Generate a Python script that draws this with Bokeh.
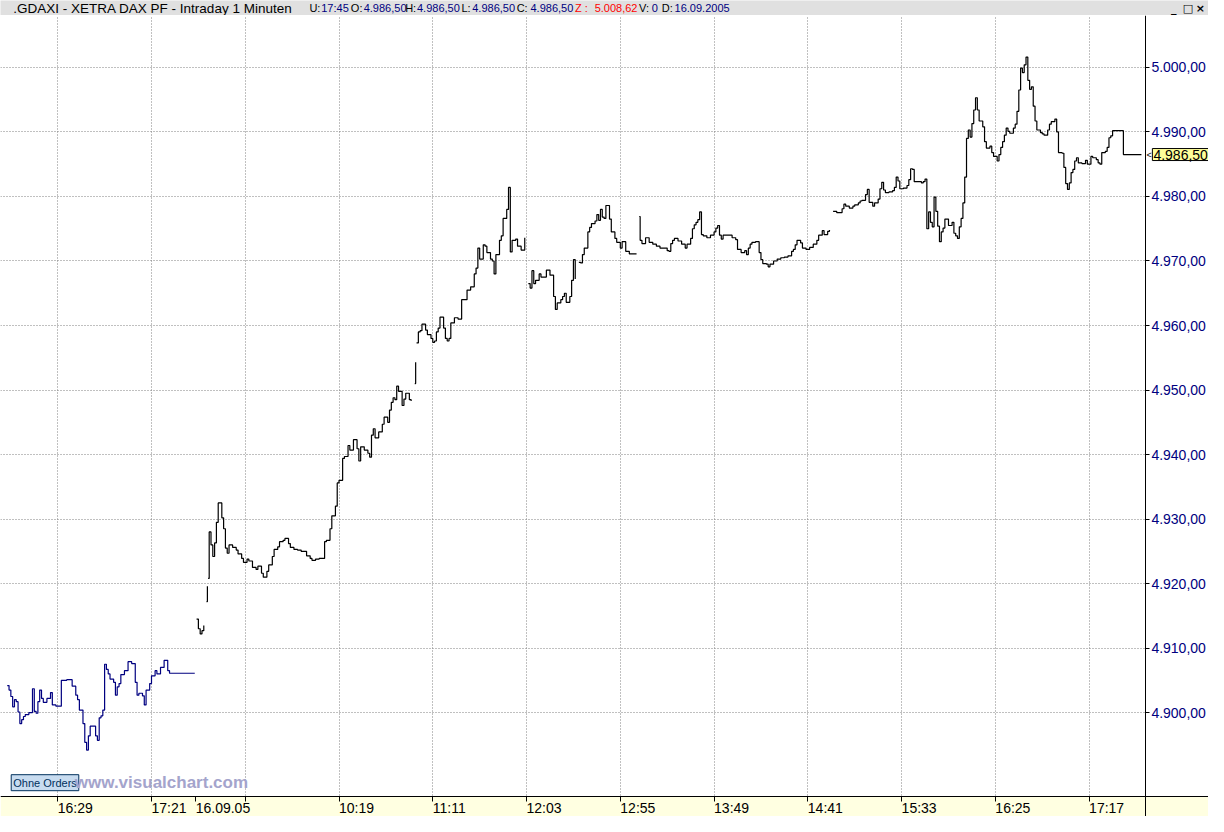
import math
from bokeh.plotting import figure
from bokeh.layouts import column
from bokeh.models import BoxAnnotation, FixedTicker, Label, Range1d
from bokeh.core.properties import value
from bokeh.embed import file_html
from bokeh.resources import INLINE

FONT = "Liberation Sans"
NAVY = "#000080"
nan = float("nan")

# header line (text pieces, colours, left edge in reference pixels)
header_text = [".GDAXI - XETRA DAX PF - Intraday 1 Minuten", "U:", "17:45", "O:", "4.986,50",
               "H:", "4.986,50", "L:", "4.986,50", "C:", "4.986,50", "Z :", "5.008,62",
               "V:", "0", "D:", "16.09.2005"]
header_color = ["black", "black", NAVY, "black", NAVY, "black", NAVY, "black", NAVY,
                "black", NAVY, "red", "red", "black", NAVY, "black", NAVY]
header_x = [13, 313, 325, 355, 368, 410, 422, 467, 478, 523, 537, 582, 602, 647, 660, 670, 683]
header_size = ["13.5px"] + ["11px"] * 16

# bar index -> time labels
x_ticks = [29, 81, 105.5, 133, 185, 237, 289, 341, 393, 445, 497, 549, 601]
x_labels = ["16:29", "17:21", "16.09.05", "", "10:19", "11:11", "12:03", "12:55",
            "13:49", "14:41", "15:33", "16:25", "17:17"]
grid_ticks = [29, 81, 133, 185, 237, 289, 341, 393, 445, 497, 549, 601]

y_ticks = [4900, 4910, 4920, 4930, 4940, 4950, 4960, 4970, 4980, 4990, 5000]
y_labels = ["4.900,00", "4.910,00", "4.920,00", "4.930,00", "4.940,00", "4.950,00",
            "4.960,00", "4.970,00", "4.980,00", "4.990,00", "5.000,00"]

last_price = 4986.5
last_label = "4.986,50"

# previous day (15.09.2005, 16:00 - 17:45)
prev_idx = [1, 2, 3, 4, 5, 6, 7, 8, 9, 10,
            11, 13, 15, 16, 17, 18, 19, 20, 21, 23,
            25, 26, 28, 31, 34, 37, 39, 40, 41, 43,
            44, 45, 46, 47, 50, 51, 52, 53, 54, 55,
            56, 57, 58, 60, 61, 62, 63, 64, 66, 68,
            70, 72, 73, 74, 76, 77, 78, 80, 81, 83,
            84, 86, 88, 90, 91, 105]
prev_close = [4904.2, 4903.5, 4902.5, 4900.9, 4902.0, 4901.7, 4900.1, 4898.3, 4898.9, 4899.4,
              4899.7, 4900.0, 4903.7, 4900.2, 4899.9, 4901.7, 4903.5, 4902.2, 4901.6, 4902.2,
              4903.1, 4901.2, 4901.0, 4905.0, 4905.1, 4904.1, 4902.7, 4902.0, 4900.4, 4898.3,
              4895.4, 4894.2, 4896.4, 4897.9, 4896.4, 4895.7, 4899.2, 4899.5, 4900.4, 4907.5,
              4906.7, 4906.0, 4905.2, 4904.7, 4902.7, 4904.0, 4904.5, 4905.9, 4906.5, 4907.9,
              4907.6, 4904.7, 4902.7, 4903.0, 4902.6, 4901.2, 4903.5, 4904.5, 4905.7, 4906.5,
              4906.0, 4907.0, 4908.1, 4906.5, 4906.1, 4906.1]

# 16.09.2005 (nan = gap in the line)
day_idx = [106, 107, 108, 109, 110, 111, 111.5, 112, 112.2, 112.4,
           113, 114, 115, 116, 117, 118, 120, 121, 122, 123,
           124, 126, 128, 129, 131, 132, 134, 135, 137, 139,
           140, 142, 143, 145, 146, 148, 149, 151, 152, 154,
           155, 157, 158, 160, 162, 164, 167, 169, 170, 172,
           174, 177, 178, 180, 181, 183, 184, 185, 187, 188,
           190, 191, 193, 195, 196, 197, 199, 201, 202, 203,
           204, 205, 207, 209, 210, 212, 213, 214, 215, 216,
           217, 218, 220, 221, 222, 224, 225, 226, 227, 227.5,
           227.7, 228, 229, 230, 231, 233, 234, 236, 237, 238,
           239, 240, 241, 243, 244, 245, 246, 247, 249, 251,
           253, 255, 256, 257, 258, 260, 261, 262, 263, 265,
           266, 267, 269, 270, 271, 272, 274, 275, 276, 278,
           279, 280, 281, 283, 284, 286, 288, 289, 290, 291,
           292, 293, 294, 296, 297, 299, 300, 302, 304, 305,
           306, 308, 309, 310, 311, 313, 314, 315, 316, 317,
           318, 319, 320, 321, 323, 324, 325, 327, 328, 329,
           330, 331, 332, 333, 335, 336, 338, 339, 341, 342,
           344, 346, 350, 351, 351.5, 352, 353, 355, 357, 359,
           361, 363, 365, 367, 368, 369, 370, 371, 373, 375,
           377, 378, 380, 381, 382, 383, 384, 385, 386, 387,
           389, 391, 393, 394, 395, 396, 397, 398, 401, 403,
           405, 406, 408, 410, 411, 412, 413, 414, 416, 418,
           419, 420, 422, 423, 424, 426, 428, 430, 432, 434,
           436, 437, 438, 439, 441, 442, 444, 446, 448, 450,
           451, 453, 454, 456, 457, 458, 459, 461, 463, 464,
           465, 466, 468, 470, 471, 473, 474, 475, 477, 478,
           479, 481, 482, 484, 485, 486, 487, 488, 490, 492,
           493, 494, 495, 496, 498, 500, 501, 502, 503, 504,
           506, 508, 509, 510, 511, 512, 513, 514, 515, 516,
           517, 518, 519, 520, 521, 523, 525, 526, 527, 528,
           529, 530, 531, 532, 533, 534, 535, 536, 537, 538,
           539, 540, 542, 543, 544, 546, 547, 548, 550, 551,
           552, 553, 554, 555, 556, 557, 559, 560, 561, 562,
           563, 564, 565, 566, 567, 568, 569, 570, 571, 572,
           574, 575, 576, 578, 579, 580, 582, 583, 584, 586,
           587, 588, 589, 590, 591, 592, 593, 594, 595, 597,
           599, 600, 602, 603, 605, 606, 607, 608, 610, 611,
           612, 613, 614, 620, 630]
day_close = [4914.5, 4913.0, 4912.2, 4912.7, 4913.5, nan, 4917.2, 4919.6, nan, 4920.8,
             4928.0, 4926.0, 4924.2, 4926.3, 4929.5, 4932.5, 4930.2, 4928.5, 4925.5, 4924.7,
             4926.0, 4925.6, 4925.2, 4924.6, 4923.9, 4923.3, 4923.8, 4923.5, 4922.5, 4922.2,
             4922.7, 4921.6, 4921.0, 4921.9, 4922.9, 4924.2, 4925.3, 4925.7, 4926.5, 4926.7,
             4927.0, 4926.2, 4925.6, 4925.3, 4925.2, 4925.0, 4924.3, 4923.9, 4923.6, 4923.8,
             4923.9, 4926.5, 4926.7, 4928.5, 4930.5, 4932.0, 4935.6, 4936.0, 4939.4, 4939.7,
             4941.4, 4940.7, 4942.3, 4940.9, 4939.0, 4941.2, 4940.7, 4940.2, 4939.6, 4943.0,
             4944.0, 4942.6, 4943.5, 4944.7, 4945.8, 4945.0, 4946.9, 4948.1, 4948.8, 4948.5,
             4950.6, 4949.8, 4947.6, 4948.6, 4949.5, 4948.5, 4948.3, nan, 4951.0, 4954.3,
             nan, 4957.3, 4959.0, 4959.2, 4960.2, 4959.3, 4958.6, 4958.0, 4957.4, 4957.6,
             4959.0, 4959.6, 4961.3, 4959.6, 4958.0, 4957.6, 4958.0, 4960.4, 4961.2, 4961.0,
             4964.0, 4964.0, 4965.5, 4965.5, 4966.0, 4968.0, 4968.9, 4972.0, 4970.3, 4972.5,
             4972.3, 4971.3, 4970.3, 4970.0, 4968.0, 4971.0, 4973.2, 4973.9, 4976.6, 4978.0,
             4981.4, 4971.4, 4973.2, 4973.4, 4972.3, 4971.7, 4973.6, nan, 4966.5, 4965.8,
             4968.5, 4966.5, 4967.0, 4968.0, 4967.5, 4967.5, 4968.6, 4967.8, 4964.5, 4962.5,
             4963.5, 4964.0, 4964.5, 4965.0, 4963.6, 4964.5, 4967.0, 4970.2, 4967.2, nan,
             4969.8, 4969.7, 4971.0, 4972.0, 4974.5, 4975.2, 4975.8, 4976.2, 4977.2, 4976.3,
             4978.0, 4976.8, 4976.6, 4978.6, 4976.5, 4974.5, 4973.5, 4972.9, 4972.0, 4973.0,
             4971.5, 4971.1, 4971.1, nan, 4976.9, 4973.2, 4972.7, 4973.6, 4972.9, 4972.6,
             4972.3, 4972.0, 4972.0, 4971.6, 4971.5, 4972.7, 4973.2, 4973.5, 4973.1, 4972.6,
             4972.0, 4972.6, 4973.5, 4975.0, 4975.6, 4976.0, 4976.4, 4977.6, 4974.1, 4973.9,
             4973.6, 4974.0, 4974.5, 4975.1, 4975.5, 4974.0, 4973.4, 4974.0, 4974.0, 4973.6,
             4973.3, 4971.8, 4971.3, 4971.6, 4971.0, 4972.0, 4972.6, 4972.9, 4973.0, 4971.3,
             4970.2, 4969.6, 4969.5, 4969.1, 4969.5, 4970.0, 4970.3, 4970.5, 4970.6, 4970.8,
             4971.5, 4971.8, 4972.5, 4973.2, 4972.8, 4972.0, 4971.8, 4972.1, 4972.6, 4973.2,
             4974.0, 4974.7, 4974.1, 4974.6, 4974.8, nan, 4977.7, 4977.5, 4977.5, 4978.1,
             4978.8, 4978.5, 4978.2, 4978.5, 4978.7, 4979.0, 4979.3, 4979.4, 4980.3, 4981.1,
             4979.1, 4978.5, 4979.0, 4979.6, 4981.2, 4982.2, 4981.0, 4980.6, 4980.7, 4980.9,
             4981.4, 4983.0, 4982.4, 4981.2, 4981.3, 4981.7, 4982.6, 4984.3, 4984.2, 4982.3,
             4982.3, 4982.1, 4982.3, 4982.7, 4975.0, 4977.6, 4976.0, 4975.3, 4979.9, 4977.7,
             4975.4, 4973.0, 4974.5, 4975.1, 4976.5, 4975.5, 4976.0, 4974.3, 4973.9, 4973.5,
             4975.3, 4976.6, 4979.0, 4983.0, 4989.0, 4990.3, 4989.2, 4991.3, 4993.4, 4995.3,
             4993.4, 4991.7, 4990.8, 4988.5, 4987.5, 4987.8, 4986.8, 4986.2, 4985.5, 4986.5,
             4987.6, 4988.5, 4989.5, 4990.6, 4990.1, 4989.8, 4990.6, 4991.2, 4993.2, 4996.5,
             4999.9, 4999.2, 5000.4, 5001.6, 4998.0, 4996.6, 4997.0, 4994.0, 4991.7, 4990.3,
             4989.9, 4989.7, 4989.5, 4990.3, 4991.2, 4991.6, 4992.0, 4990.0, 4986.8, 4986.7,
             4984.5, 4982.0, 4981.1, 4982.1, 4983.7, 4984.2, 4985.5, 4986.0, 4985.2, 4985.1,
             4985.6, 4985.0, 4986.2, 4986.0, 4985.7, 4985.2, 4985.0, 4986.8, 4987.0, 4987.6,
             4989.1, 4989.4, 4990.2, 4986.5, 4986.5]

assert len(prev_idx) == len(prev_close)
assert len(day_idx) == len(day_close)


def segments(xs, ys):
    sx, sy = [], []
    for x, y in zip(xs, ys):
        if math.isnan(y):
            if sx:
                yield sx, sy
            sx, sy = [], []
        else:
            sx.append(x)
            sy.append(y)
    if sx:
        yield sx, sy


W, H, HEAD = 1208, 816, 15
X_AXIS_AT = 4886.93     # price level where the time scale sits
Y_AXIS_AT = 632.2       # bar position where the price scale sits

# title bar
head = figure(width=W, height=HEAD, x_range=(0, 1224), y_range=(0, 15),
              x_axis_location=None, y_axis_location=None,
              toolbar_location=None, output_backend="svg", min_border=0)
head.grid.visible = False
head.outline_line_color = None
head.background_fill_color = "#E0E0E0"
head.border_fill_color = "#E0E0E0"
head.text(x=header_x, y=[7.5] * len(header_x), text=header_text, text_color=header_color,
          text_font=value(FONT), text_font_size=header_size, text_baseline="middle")
head.text(x=[1186, 1198, 1211], y=[7.5] * 3, text=["_", "\u25a1", "\u00d7"], text_color="black",
          text_font=value("DejaVu Sans"), text_font_size="11px", text_font_style="bold",
          text_baseline="middle")

# chart: the frame covers the whole area, both scales sit inside it
p = figure(width=W, height=H - HEAD, x_range=Range1d(-2.74, 667.2), y_range=Range1d(4883.9, 5008.05),
           y_axis_location="right", toolbar_location=None, output_backend="svg", min_border=0)
p.outline_line_color = None
p.background_fill_color = "white"
p.border_fill_color = "white"

p.add_layout(BoxAnnotation(top=X_AXIS_AT, fill_color="#FFFFE1", fill_alpha=1,
                           line_color=None, level="underlay"))
p.add_layout(BoxAnnotation(left=Y_AXIS_AT, bottom=X_AXIS_AT, fill_color="white", fill_alpha=1,
                           line_color=None, level="underlay"))

for xs, ys in segments(prev_idx, prev_close):
    p.step(xs, ys, mode="after", line_color=NAVY, line_width=1.2)
for xs, ys in segments(day_idx, day_close):
    p.step(xs, ys, mode="after", line_color="black", line_width=1.2)

xa = p.xaxis[0]
xa.fixed_location = X_AXIS_AT
xa.ticker = FixedTicker(ticks=x_ticks)
xa.major_label_overrides = dict(zip(x_ticks, x_labels))
xa.major_label_orientation = -1e-6
xa.major_label_standoff = 6
xa.major_tick_in = 0
xa.major_tick_out = 5
xa.minor_tick_in = 0
xa.minor_tick_out = 0
xa.axis_line_color = "black"
xa.major_tick_line_color = "black"
xa.major_label_text_font = FONT
xa.major_label_text_font_size = "14px"
xa.major_label_text_color = "black"

ya = p.yaxis[0]
ya.fixed_location = Y_AXIS_AT
ya.ticker = FixedTicker(ticks=y_ticks)
ya.major_label_overrides = dict(zip(y_ticks, y_labels))
ya.major_label_standoff = 2
ya.major_tick_in = 0
ya.major_tick_out = 4
ya.minor_tick_in = 0
ya.minor_tick_out = 0
ya.axis_line_color = "black"
ya.major_tick_line_color = "black"
ya.major_label_text_font = FONT
ya.major_label_text_font_size = "14px"
ya.major_label_text_color = NAVY

p.xgrid.ticker = FixedTicker(ticks=grid_ticks)
for g in (p.xgrid[0], p.ygrid[0]):
    g.grid_line_color = "#808080"
    g.grid_line_dash = "1 2"
    g.grid_line_width = 1

# last price marker on the price scale
p.add_layout(Label(x=Y_AXIS_AT, y=last_price, x_offset=1, text="<", text_font=FONT,
                   text_font_size="9px", text_baseline="middle", text_color="black"))
p.add_layout(Label(x=Y_AXIS_AT, y=last_price, x_offset=7, text=last_label, text_font=FONT,
                   text_font_size="14px", text_baseline="middle", text_color="black",
                   background_fill_color="#FFFF99", border_line_color="black", padding=1))

p.add_layout(Label(x=3.2, y=4887.9, text="Ohne Orders", text_font=FONT, text_font_size="11px",
                   text_baseline="bottom", text_color="#00305C", padding=2,
                   background_fill_color="#C8DCF0", border_line_color="#00305C"))
p.add_layout(Label(x=38.5, y=4889.2, text="www.visualchart.com", text_font=FONT,
                   text_font_size="17px", text_font_style="bold", text_baseline="middle",
                   text_color="#A4A4CC"))

layout = column(head, p, spacing=0)
open("out.html", "w").write(file_html(layout, INLINE))
